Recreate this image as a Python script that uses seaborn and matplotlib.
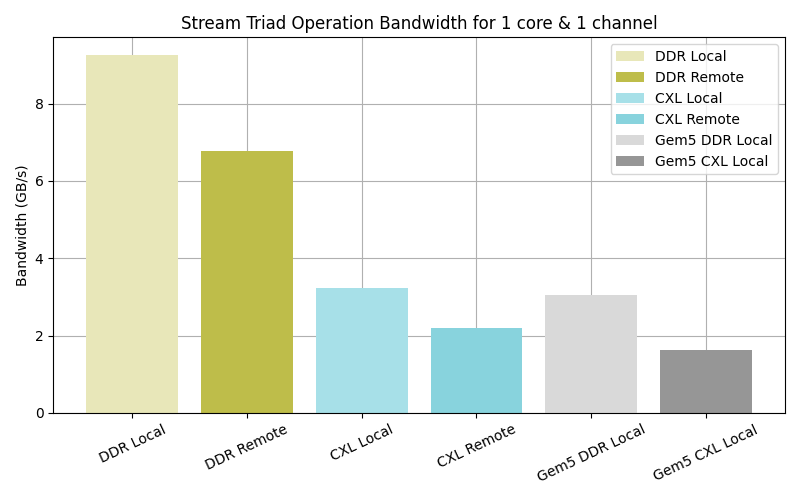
import matplotlib
matplotlib.use("Agg")
import matplotlib.pyplot as plt
import seaborn as sns
import pandas as pd

categories = ["DDR Local", "DDR Remote", "CXL Local", "CXL Remote", "Gem5 DDR Local", "Gem5 CXL Local"]
bandwidth = [9.25, 6.78, 3.24, 2.20, 3.04, 1.64]
colors = ["#e8e7b9", "#bebd4a", "#a7e0e8", "#88d3dd", "#d9d9d9", "#969696"]

df = pd.DataFrame({"Config": categories, "Bandwidth": bandwidth})

fig, ax = plt.subplots(figsize=(8, 5), dpi=100)
sns.barplot(data=df, x="Config", y="Bandwidth", hue="Config", palette=colors,
            order=categories, hue_order=categories, dodge=False, width=0.8,
            saturation=1, legend=True, ax=ax)
n = len(categories)
span = (n - 1) + 0.8
ax.set_xlim(-0.4 - 0.05 * span, n - 1 + 0.4 + 0.05 * span)
ax.set_ylim(0, max(bandwidth) * 1.05)
ax.grid(True, color="#b0b0b0", linewidth=0.8)
ax.set_axisbelow(True)
ax.set_title("Stream Triad Operation Bandwidth for 1 core & 1 channel")
ax.set_xlabel("")
ax.set_ylabel("Bandwidth (GB/s)")
plt.setp(ax.get_xticklabels(), rotation=25)
ax.legend(loc="upper right")
fig.tight_layout()
fig.savefig("out.png", dpi=100)
